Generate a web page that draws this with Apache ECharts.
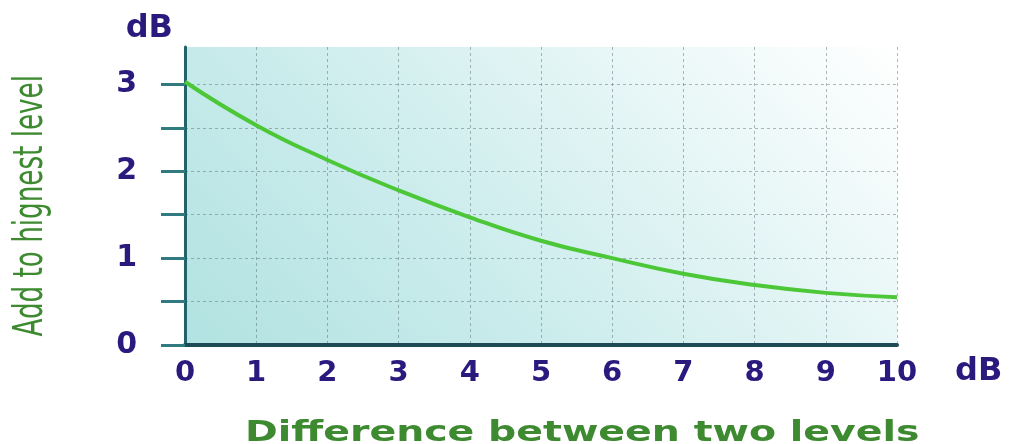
<!DOCTYPE html>
<html>
<head>
<meta charset="utf-8">
<script src="https://cdn.jsdelivr.net/npm/echarts@6/dist/echarts.min.js"></script>
<style>
  html, body { margin: 0; padding: 0; background: #fff; }
  #chart { width: 1024px; height: 444px; }
</style>
</head>
<body>
<div id="chart"></div>
<script>
// level difference (dB) and amount to add to the highest level (dB)
var diffs = [0, 1, 2, 3, 4, 5, 6, 7, 8, 9, 10];
var addValues = [3.03, 2.53, 2.13, 1.78, 1.47, 1.2, 1.0, 0.82, 0.69, 0.6, 0.55];

var purple = '#2b1a7e';
var green = '#3d8a30';
var axisTeal = '#23616b';
var gridDash = { color: 'rgba(80,100,105,0.45)', type: [3, 3], width: 1 };

var chart = echarts.init(document.getElementById('chart'));

var option = {
  animation: false,
  grid: {
    left: 185, right: 127, top: 47, bottom: 99,
    show: true,
    borderWidth: 0,
    // diagonal wash, teal at lower left fading to white at upper right
    backgroundColor: new echarts.graphic.LinearGradient(185, 345, 690, -160, [
      { offset: 0, color: '#b1e2e1' },
      { offset: 0.3, color: '#c6eaea' },
      { offset: 0.5, color: '#d6f0f0' },
      { offset: 0.7, color: '#e7f6f6' },
      { offset: 1, color: '#ffffff' }
    ], true)
  },
  xAxis: {
    type: 'value', min: 0, max: 10, interval: 1,
    name: 'dB', nameLocation: 'end', nameGap: 58,
    nameTextStyle: { color: purple, fontFamily: 'DejaVu Sans', fontWeight: 'bold', fontSize: 32, verticalAlign: 'top', padding: [11, 0, 0, 0] },
    axisLine: { show: true, lineStyle: { color: '#1d4a55', width: 4 } },
    axisTick: { show: false },
    axisLabel: { color: purple, fontFamily: 'DejaVu Sans', fontWeight: 'bold', fontSize: 29, margin: 14 },
    splitLine: { show: true, showMinLine: false, lineStyle: gridDash }
  },
  yAxis: {
    type: 'value', min: 0, max: 3.43, interval: 0.5,
    name: 'dB', nameLocation: 'end', nameGap: 2,
    nameTextStyle: { color: purple, fontFamily: 'DejaVu Sans', fontWeight: 'bold', fontSize: 32, align: 'right', padding: [0, 12, 0, 0] },
    axisLine: { show: true, onZero: false, lineStyle: { color: axisTeal, width: 3 } },
    axisTick: { show: true, length: 24, lineStyle: { color: '#2f7b80', width: 3 } },
    axisLabel: {
      showMaxLabel: false,
      color: purple, fontFamily: 'DejaVu Sans', fontWeight: 'bold', fontSize: 30, margin: 48,
      formatter: function (v) { return v % 1 === 0 ? String(v) : ''; }
    },
    splitLine: { show: true, showMinLine: false, showMaxLine: false, lineStyle: gridDash }
  },
  graphic: [{
    type: 'text',
    left: 12, top: 75,
    rotation: Math.PI / 2,
    scaleX: 0.655,
    style: {
      text: 'Add to hignest level',
      fill: green,
      font: '40px "DejaVu Sans"'
    }
  }, {
    type: 'text',
    left: 245, top: 419,
    scaleX: 1.36,
    style: {
      text: 'Difference between two levels',
      fill: green,
      font: 'bold 29px "DejaVu Sans"'
    }
  }],
  series: [{
    type: 'line',
    smooth: true,
    symbol: 'none',
    lineStyle: { color: '#4cc738', width: 4 },
    data: diffs.map(function (d, i) { return [d, addValues[i]]; })
  }]
};

chart.setOption(option);
</script>
</body>
</html>
